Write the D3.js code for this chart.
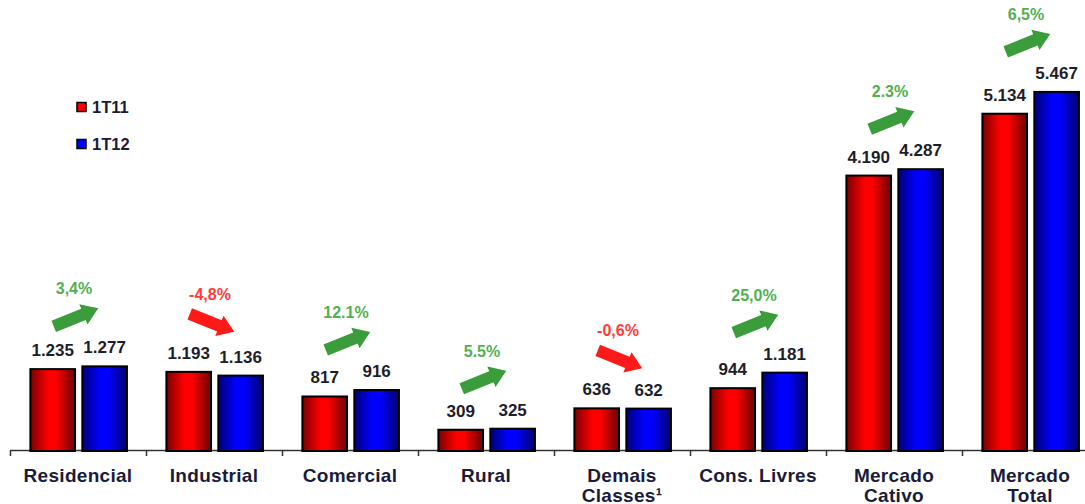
<!DOCTYPE html>
<html lang="pt">
<head>
<meta charset="UTF-8">
<title>Mercado 1T11 x 1T12</title>
<style>
    body { margin: 0; background: #ffffff; }
    svg { display: block; font-family: "Liberation Sans", Arial, sans-serif; }
    .value { font-size: 17px; font-weight: bold; fill: #1e1e2a; }
    .cat { font-size: 19px; font-weight: bold; fill: #1b1b3c; letter-spacing: 0.3px; }
    .pct { font-size: 16px; font-weight: bold; }
    .legend text { font-size: 16.5px; font-weight: bold; fill: #1b1b3c; }
    .axis path, .axis line { stroke: #333; stroke-width: 1.5; }
</style>
<script src="https://d3js.org/d3.v7.min.js"></script>
</head>
<body>
<svg id="chart" width="1085" height="504"></svg>
<script>
    // categories and series
    const categories = ["Residencial", "Industrial", "Comercial", "Rural", "Demais\nClasses\u00b9", "Cons. Livres", "Mercado\nCativo", "Mercado\nTotal"];
    const series = ["1T11", "1T12"];
    const values1T11 = [1235, 1193, 817, 309, 636, 944, 4190, 5134];
    const values1T12 = [1277, 1136, 916, 325, 632, 1181, 4287, 5467];
    const changeLabels = ["3,4%", "-4,8%", "12.1%", "5.5%", "-0,6%", "25,0%", "2.3%", "6,5%"];

    const svg = d3.select("#chart");
    const baseY = 450;

    const fmt = d3.formatLocale({ decimal: ",", thousands: ".", grouping: [3], currency: ["", ""] }).format(",d");

    // group scale: 8 groups of ~136px starting at x=10 (last one runs past the edge)
    const x0 = d3.scaleBand().domain(categories).range([10, 10 + 136 * categories.length]).padding(0);
    const bw = x0.bandwidth();
    const x1 = d3.scaleBand().domain(series).range([bw * 0.15, bw * 0.86]).paddingInner(0.14);
    const y = d3.scaleLinear().domain([0, 6000]).range([baseY, 57]);

    const rows = categories.map((c, i) => ({ cat: c, vals: [values1T11[i], values1T12[i]], change: changeLabels[i] }));

    // gradients for the bars
    const defs = svg.append("defs");
    const grads = [
        { id: "gRed", dark: "#7a0000", light: "#ff0000", end: "#6a0000" },
        { id: "gBlue", dark: "#00007a", light: "#0000ff", end: "#00006a" }
    ];
    grads.forEach(g => {
        const lg = defs.append("linearGradient").attr("id", g.id).attr("x1", "0").attr("x2", "1").attr("y1", "0").attr("y2", "0");
        lg.append("stop").attr("offset", "0%").attr("stop-color", g.dark);
        lg.append("stop").attr("offset", "40%").attr("stop-color", g.light);
        lg.append("stop").attr("offset", "58%").attr("stop-color", g.light);
        lg.append("stop").attr("offset", "100%").attr("stop-color", g.end);
    });
    const fills = ["url(#gRed)", "url(#gBlue)"];

    // axis with ticks on group boundaries
    const xb = d3.scaleLinear().domain([0, categories.length]).range(x0.range());
    svg.append("g")
        .attr("class", "axis")
        .attr("transform", `translate(0,${baseY})`)
        .call(d3.axisBottom(xb).tickValues(d3.range(0, categories.length + 1)).tickSize(6).tickSizeOuter(0).tickFormat(""));

    const groups = svg.append("g").selectAll("g")
        .data(rows)
        .enter().append("g")
        .attr("transform", d => `translate(${x0(d.cat)},0)`);

    // bars
    groups.selectAll("rect")
        .data(d => d.vals.map((v, j) => ({ s: series[j], v: v, j: j })))
        .enter().append("rect")
        .attr("x", d => x1(d.s))
        .attr("y", d => y(d.v))
        .attr("width", x1.bandwidth())
        .attr("height", d => baseY + 1 - y(d.v))
        .attr("fill", d => fills[d.j])
        .attr("stroke", "#000")
        .attr("stroke-width", 2);

    // value labels
    groups.selectAll("text.value")
        .data(d => d.vals.map((v, j) => ({ s: series[j], v: v })))
        .enter().append("text")
        .attr("class", "value")
        .attr("x", d => x1(d.s) + x1.bandwidth() / 2)
        .attr("y", d => y(d.v) - 13)
        .attr("text-anchor", "middle")
        .text(d => fmt(d.v));

    // category labels (second line runs off the bottom, as in the original)
    const cat = groups.append("text")
        .attr("class", "cat")
        .attr("text-anchor", "middle")
        .attr("x", bw / 2)
        .attr("y", 482);
    cat.selectAll("tspan")
        .data(d => d.cat.split("\n"))
        .enter().append("tspan")
        .attr("x", bw / 2)
        .attr("dy", (d, i) => i === 0 ? 0 : 20)
        .text(d => d);

    // change arrows + percentages
    const L = 48, bodyH = 6, headH = 11, headL = 16;
    const arrowPath = `M${-L / 2},${-bodyH} L${L / 2 - headL},${-bodyH} L${L / 2 - headL},${-headH} L${L / 2},0 L${L / 2 - headL},${headH} L${L / 2 - headL},${bodyH} L${-L / 2},${bodyH} Z`;

    groups.each(function (d) {
        const g = d3.select(this);
        const down = d.change.startsWith("-");
        const col = down ? "#ff1a1a" : "#3a9c3a";
        const topY = y(d3.max(d.vals));
        const cy = topY - 49;
        g.append("path")
            .attr("d", arrowPath)
            .attr("fill", col)
            .attr("transform", `translate(${bw / 2 - 2},${cy}) rotate(${down ? 22 : -22})`);
        g.append("text")
            .attr("class", "pct")
            .attr("x", bw / 2 - 4)
            .attr("y", cy - 23)
            .attr("text-anchor", "middle")
            .attr("fill", down ? "#ff3b3b" : "#52b052")
            .text(d.change);
    });

    // legend
    const legend = svg.append("g").attr("class", "legend");
    series.forEach((s, i) => {
        const ly = 107 + i * 37;
        legend.append("rect")
            .attr("x", 77).attr("y", ly - 4.5)
            .attr("width", 9).attr("height", 9)
            .attr("fill", i === 0 ? "#ff0000" : "#0000ff")
            .attr("stroke", "#000").attr("stroke-width", 1.5);
        legend.append("text")
            .attr("x", 92).attr("y", ly + 6)
            .text(s);
    });
</script>
</body>
</html>
